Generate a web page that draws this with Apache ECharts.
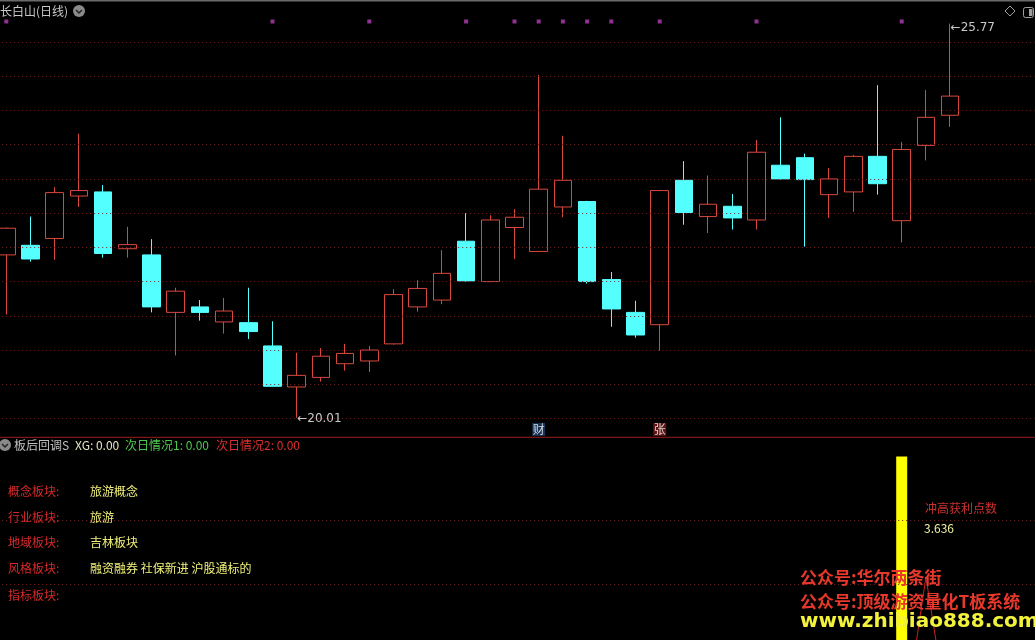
<!DOCTYPE html>
<html>
<head>
<meta charset="utf-8">
<script src="https://cdn.jsdelivr.net/npm/echarts@6/dist/echarts.min.js"></script>
<style>
html,body{margin:0;padding:0;background:#000;}
#chart{width:1035px;height:640px;}
</style>
</head>
<body>
<div id="chart"></div>
<script>
// ---------- data ----------
const categories = ['1','2','3','4','5','6','7','8','9','10','11','12','13','14','15','16','17','18','19','20',
  '21','22','23','24','25','26','27','28','29','30','31','32','33','34','35','36','37','38','39','40','41','42','43'];
const opens  = [22.39,22.53,22.63,23.25,23.31,22.48,22.39,21.55,21.63,21.41,21.40,21.06,20.46,20.60,20.80,20.84,21.09,21.63,21.73,22.59,
                22.00,22.79,22.44,23.09,23.17,22.03,21.55,21.37,23.48,22.95,23.10,22.90,23.70,23.81,23.27,23.31,23.83,22.89,23.99,24.43];
const closes = [22.78,22.33,23.30,23.33,22.41,22.54,21.63,21.86,21.55,21.57,21.27,20.47,20.63,20.91,20.95,21.00,21.81,21.90,22.12,22.01,
                22.90,22.94,23.35,23.48,22.00,21.60,21.22,23.33,23.01,23.13,22.93,23.89,23.50,23.49,23.50,23.83,23.43,23.93,24.40,24.71];
const lows   = [21.52,22.29,22.32,23.09,22.35,22.35,21.55,20.92,21.43,21.24,21.16,20.46,20.01,20.54,20.70,20.68,21.08,21.56,21.67,22.00,
                21.99,22.33,22.43,22.94,21.97,21.34,21.18,20.99,22.83,22.71,22.76,22.76,23.49,22.51,22.93,23.02,23.27,22.57,23.77,24.26];
const highs  = [22.79,22.95,23.38,24.16,23.41,22.80,22.62,21.91,21.73,21.76,21.91,21.42,20.96,21.03,21.09,21.06,21.89,22.02,22.46,23.00,
                22.97,23.06,25.02,24.13,23.18,22.14,21.72,23.34,23.76,23.55,23.28,24.07,24.40,23.87,23.66,23.85,24.87,24.04,24.80,25.77];
const gridLevels = [20.0,20.5,21.0,21.5,22.0,22.5,23.0,23.5,24.0,24.5,25.0,25.5];
const signalIndex = [0,11,15,19,21,22,23,24,25,27,31,37];
const signalLevel = 25.80;
const tagIndex = [22,27];
const tagText = ['财','张'];
const tagColor = ['#1c3d6a','#761a1a'];
const tagLevel = 19.84;
// lower indicator panel
const lowerGridLevels = [5,4];
const barIndex = [37];
const barValues = [6.0];
const lineIndex = [37,38,39];
const lineValues = [1.54,4.11,1.72];

// ---------- chart ----------
const FONT = '"Noto Sans CJK SC", "Noto Sans", sans-serif';
const chart = echarts.init(document.getElementById('chart'), null, {renderer:'canvas'});
const candleData = opens.map((o,i)=>[o, closes[i], lows[i], highs[i]]);

function txt(x, y, text, color, size, extra){
  return Object.assign({type:'text', x:x, y:y, silent:true,
    style:{text:text, fill:color, font:(size||12)+'px '+FONT, textVerticalAlign:'middle'}}, extra||{});
}
function chevronIcon(cx, cy){
  return [
    {type:'circle', shape:{cx:cx, cy:cy, r:6}, style:{fill:'#8a8a8a'}, silent:true},
    {type:'polyline', shape:{points:[[cx-3,cy-1],[cx,cy+2],[cx+3,cy-1]]}, style:{stroke:'#222', lineWidth:1.5, fill:null}, silent:true}
  ];
}

const option = {
  backgroundColor:'#000000',
  animation:false,
  grid:[
    {left:-5.8, width:1040.6, top:7.8, height:429.5, outerBoundsMode:'none'},
    {left:-5.8, width:1040.6, top:437.3, height:202.7, outerBoundsMode:'none'}
  ],
  xAxis:[
    {type:'category', gridIndex:0, data:categories, show:false, boundaryGap:true},
    {type:'category', gridIndex:1, data:categories, show:false, boundaryGap:true}
  ],
  yAxis:[
    {type:'value', gridIndex:0, min:19.725, max:26.0, show:false, splitLine:{show:false}},
    {type:'value', gridIndex:1, min:3.124, max:6.3, show:false, splitLine:{show:false}}
  ],
  series:[
    {
      type:'candlestick', xAxisIndex:0, yAxisIndex:0,
      data:candleData, barWidth:18,
      itemStyle:{color:'#000000', color0:'#54ffff', borderColor:'#d9483f', borderColor0:'#54ffff', borderWidth:1},
      markLine:{silent:true, symbol:'none', animation:false,
        lineStyle:{color:'#7e2222', type:[1,3], width:1},
        label:{show:false},
        data:gridLevels.map(v=>({yAxis:v}))},
      markPoint:{silent:true, animation:false,
        symbol:'circle', symbolSize:1, itemStyle:{color:'rgba(0,0,0,0)'},
        label:{show:true, position:'right', distance:0, color:'#c8c8c8', fontSize:12, fontFamily:'"DejaVu Sans", sans-serif'},
        data:[
          {type:'min', valueDim:'lowest', label:{formatter:p=>'\u2190'+p.value.toFixed(2), offset:[0,1]}},
          {type:'max', valueDim:'highest', label:{formatter:p=>'\u2190'+p.value.toFixed(2), offset:[0,4]}}
        ]}
    },
    {
      type:'scatter', xAxisIndex:0, yAxisIndex:0, silent:true,
      symbol:'rect', symbolSize:4, itemStyle:{color:'#b53db5'},
      data:signalIndex.map(i=>[i, signalLevel])
    },
    {
      type:'scatter', xAxisIndex:0, yAxisIndex:0, silent:true,
      symbol:'rect', symbolSize:[13,13],
      data:tagIndex.map((i,k)=>({value:[i, tagLevel], itemStyle:{color:tagColor[k]},
        label:{show:true, position:'inside', formatter:tagText[k], color:'#ffffff', fontSize:12, fontFamily:FONT}}))
    },
    {
      type:'bar', xAxisIndex:1, yAxisIndex:1, silent:true, barWidth:11,
      itemStyle:{color:'#ffff00'},
      data:barIndex.map((i,k)=>[i, barValues[k]])
    },
    {
      type:'line', xAxisIndex:1, yAxisIndex:1, silent:true, symbol:'none', clip:true,
      lineStyle:{color:'#c42222', width:1},
      data:lineIndex.map((i,k)=>[i, lineValues[k]]),
      markLine:{silent:true, symbol:'none', animation:false,
        lineStyle:{color:'#7e2222', type:[1,3], width:1},
        label:{show:false},
        data:lowerGridLevels.map(v=>({yAxis:v}))}
    }
  ],
  graphic:[
    {type:'rect', shape:{x:0, y:0, width:1035, height:1.5}, style:{fill:'#6a6a6a'}, silent:true},
    txt(0, 11, '长白山(日线)', '#c8c8c8', 12),
    ...chevronIcon(79, 11),
    {type:'polygon', shape:{points:[[1010,6],[1015,11],[1010,16],[1005,11]]}, style:{stroke:'#a0a0a0', fill:null, lineWidth:1}, silent:true},
    {type:'rect', shape:{x:1023.5, y:7.5, width:10, height:10, r:2}, style:{stroke:'#a0a0a0', fill:null, lineWidth:1}, silent:true},
    {type:'rect', shape:{x:1029, y:9, width:3.5, height:7}, style:{fill:'#a0a0a0'}, silent:true},
    {type:'line', shape:{x1:0, y1:437.3, x2:1035, y2:437.3}, style:{stroke:'#a01c1c', lineWidth:1}, silent:true},
    ...chevronIcon(5, 445),
    txt(14, 445.5, '板后回调S', '#c0c0c0', 12),
    txt(75, 445.5, 'XG: 0.00', '#e6e6c0', 12),
    txt(125, 445.5, '次日情况1: 0.00', '#4ec84e', 12),
    txt(216, 445.5, '次日情况2: 0.00', '#d83030', 12),
    txt(8, 491, '概念板块:', '#d42a2a', 12),
    txt(8, 517, '行业板块:', '#d42a2a', 12),
    txt(8, 542.5, '地域板块:', '#d42a2a', 12),
    txt(8, 568.5, '风格板块:', '#d42a2a', 12),
    txt(8, 595, '指标板块:', '#d42a2a', 12),
    txt(90, 491, '旅游概念', '#f0f07a', 12),
    txt(90, 517, '旅游', '#f0f07a', 12),
    txt(90, 542.5, '吉林板块', '#f0f07a', 12),
    txt(90, 568.5, '融资融券 社保新进 沪股通标的', '#f0f07a', 12),
    txt(925, 508, '冲高获利点数', '#c83030', 12),
    txt(924, 528, '3.636', '#f0f0a0', 12),
    {type:'text', x:800, y:578, silent:true, z:100, style:{text:'公众号:华尔两条街', fill:'#e8382c', font:'bold 17px '+FONT, textVerticalAlign:'middle'}},
    {type:'text', x:800, y:601.5, silent:true, z:100, style:{text:'公众号:顶级游资量化T板系统', fill:'#e8382c', font:'bold 17px '+FONT, textVerticalAlign:'middle'}},
    {type:'text', x:800, y:622, silent:true, z:100, style:{text:'www.zhibiao888.com', fill:'#f2f23c', font:'bold 20px "DejaVu Sans", sans-serif', textVerticalAlign:'middle'}}
  ]
};
chart.setOption(option);
</script>
</body>
</html>
